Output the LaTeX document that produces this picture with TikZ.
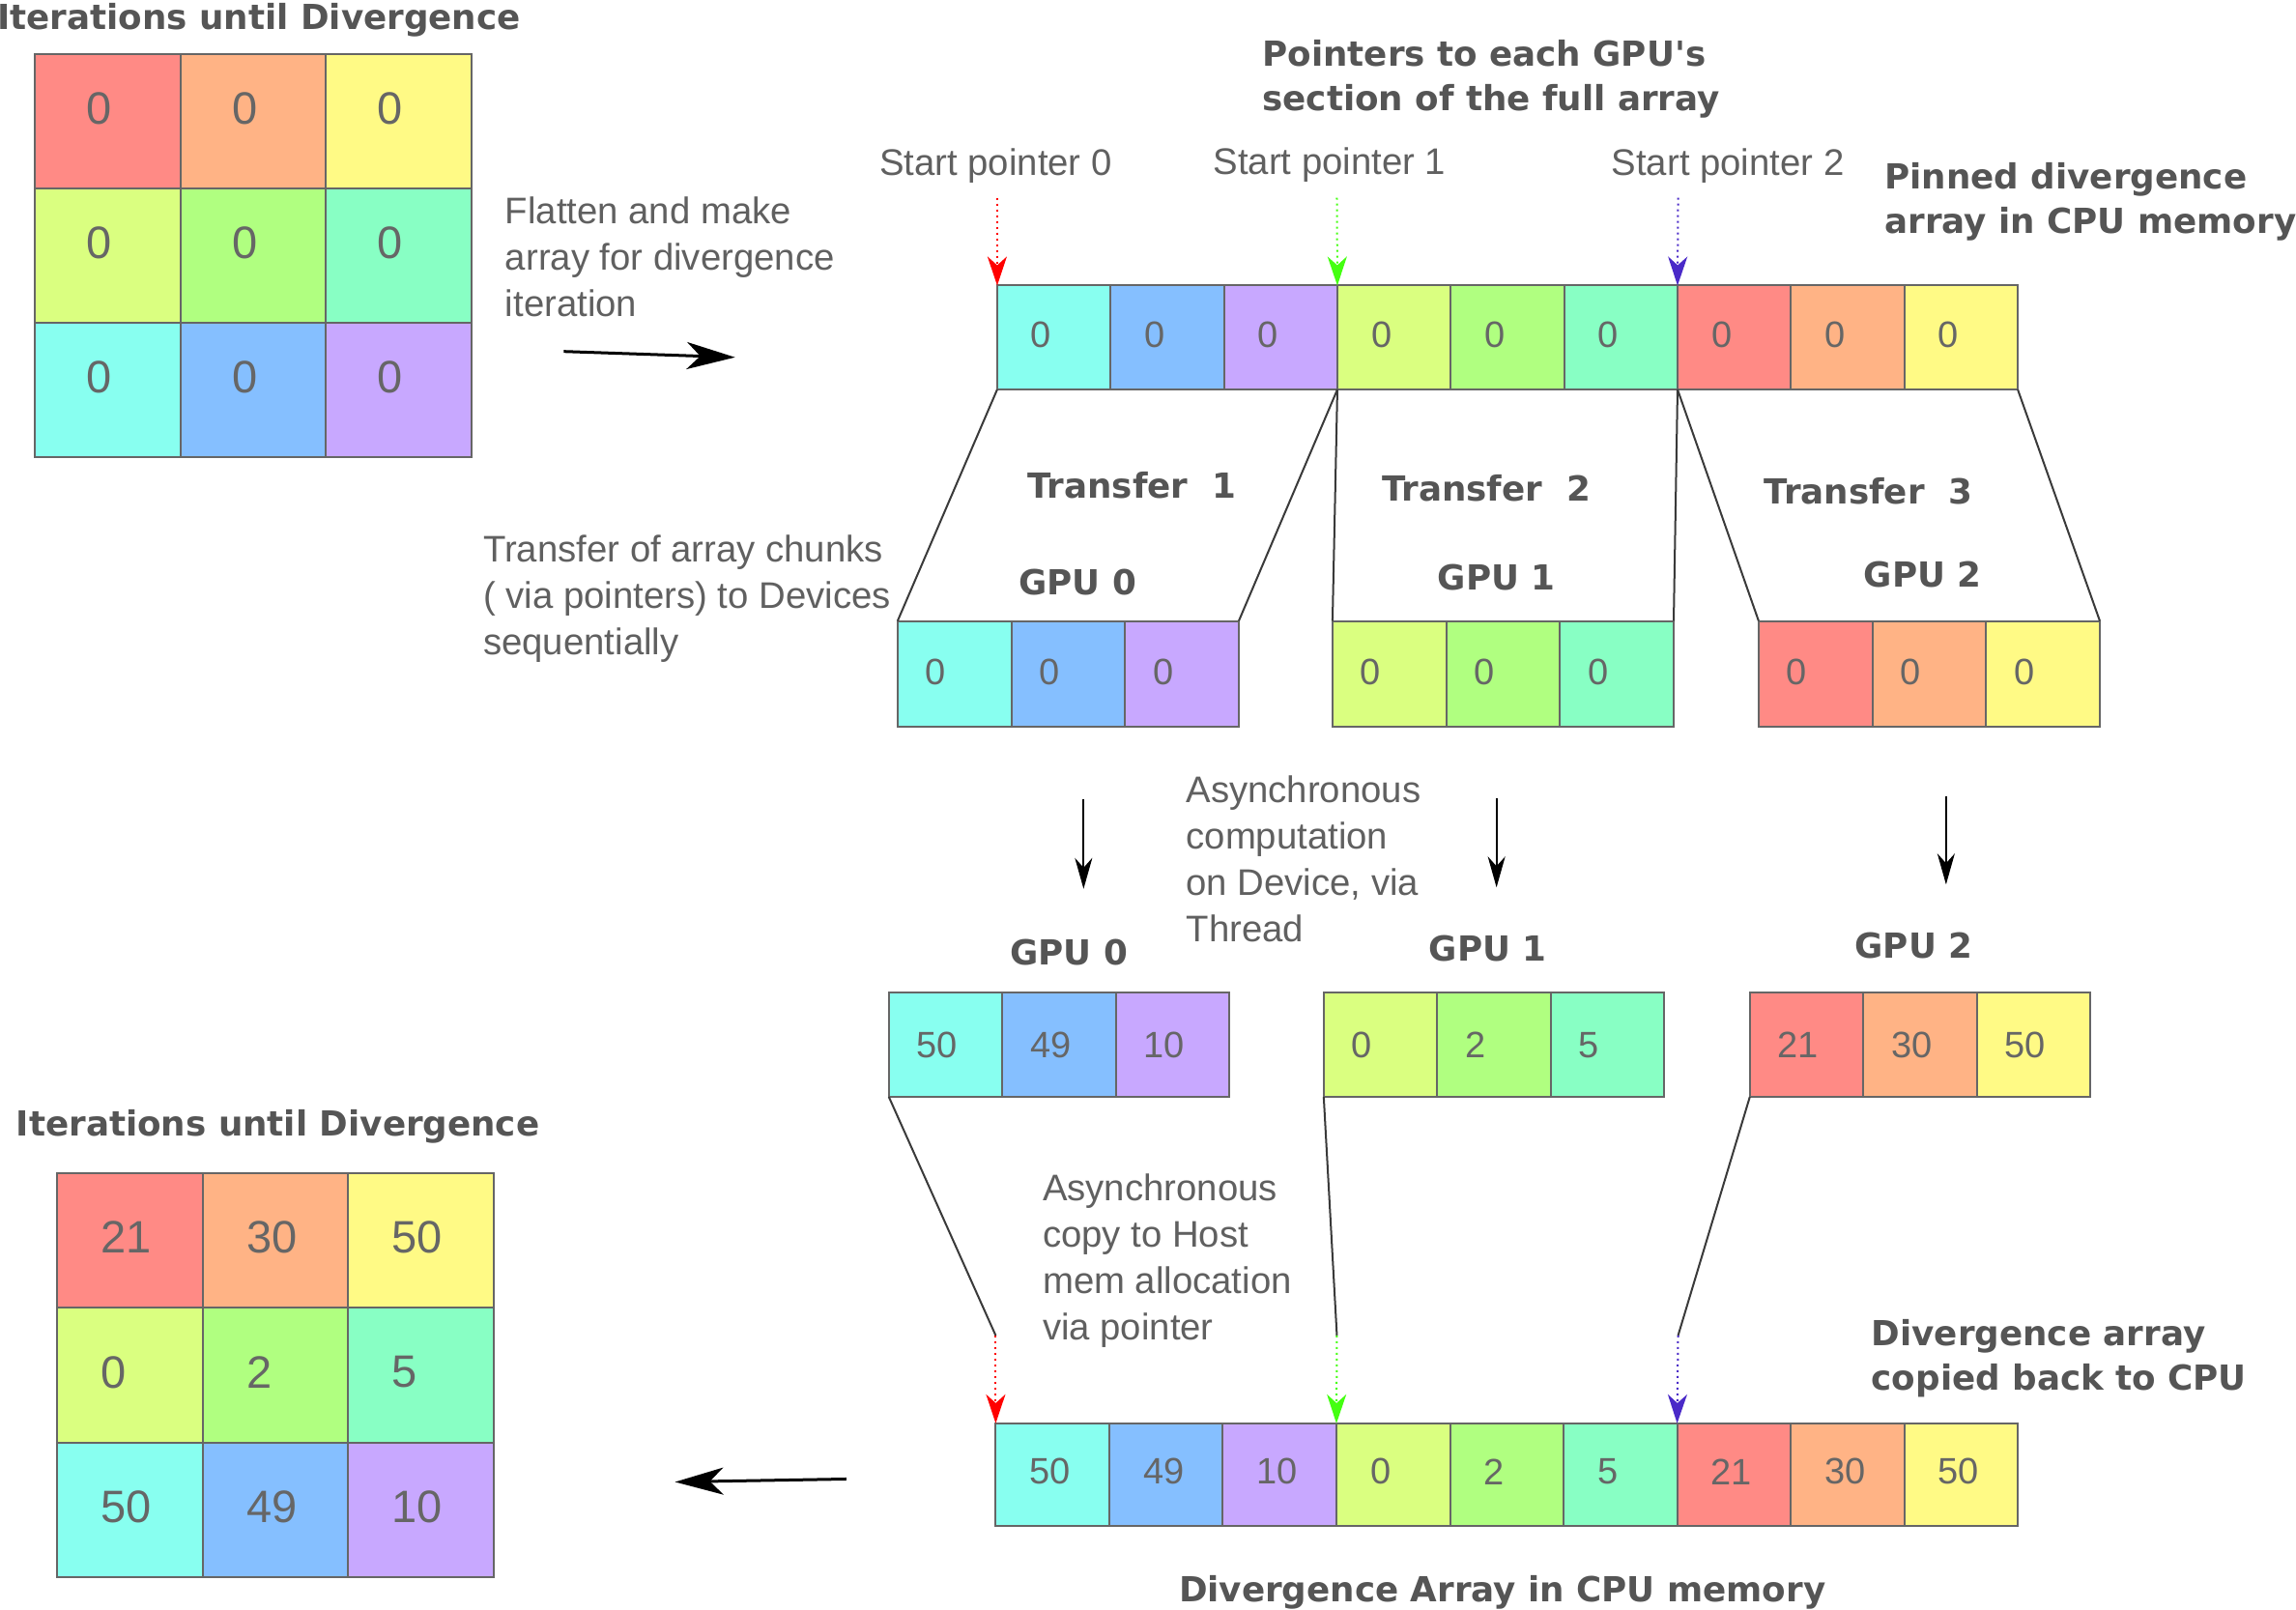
\documentclass[tikz,border=0pt]{standalone}
\usepackage{fontspec}
\setmainfont{Liberation Sans}
\newfontfamily\dvs{DejaVu Sans}
\usetikzlibrary{arrows.meta,calc}
\definecolor{cR}{HTML}{FF8A85}
\definecolor{cO}{HTML}{FFB385}
\definecolor{cY}{HTML}{FFFA85}
\definecolor{cYG}{HTML}{DAFF80}
\definecolor{cG}{HTML}{B0FF80}
\definecolor{cM}{HTML}{88FFC4}
\definecolor{cC}{HTML}{88FFF0}
\definecolor{cB}{HTML}{85BFFF}
\definecolor{cP}{HTML}{C8A8FF}
\definecolor{cellgray}{HTML}{666666}
\definecolor{numgray}{HTML}{666666}
\definecolor{txtgray}{HTML}{606060}
\definecolor{boldgray}{HTML}{555555}
\definecolor{trapgray}{HTML}{3A3A3A}
\definecolor{pRed}{HTML}{FF0000}
\definecolor{pGreen}{HTML}{44FF11}
\definecolor{pBlue}{HTML}{4A2AC8}
\begin{document}
\begin{tikzpicture}[x=1.5153pt,y=-1.5153pt,
  cell/.style={draw=cellgray, line width=2pt, outer sep=0pt, inner sep=0pt, anchor=north west},
  num/.style={text=numgray, inner sep=0pt, anchor=west},
  gridnum/.style={num, font=\fontsize{47}{56}\selectfont},
  arrnum/.style={num, font=\fontsize{38}{46}\selectfont},
  lbl/.style={text=txtgray, inner sep=0pt, font=\fontsize{38.3}{48}\selectfont},
  blbl/.style={text=boldgray, inner sep=0pt, font=\dvs\bfseries\fontsize{35.7}{46}\selectfont},
  trap/.style={draw=trapgray, line width=2pt},
  ptr/.style={line width=2pt, dash pattern=on 2pt off 4pt, -{Stealth[length=30pt,width=20pt,inset=9pt]}},
  bigarrow/.style={line width=3pt, -{Stealth[length=50pt,width=28pt,inset=14pt]}},
  downarrow/.style={line width=2pt, -{Stealth[length=32pt,width=18pt,inset=10pt]}}
]
\fill[white] (0,0) rectangle (1568,1099);
\useasboundingbox (0,0) rectangle (1568,1099);

% top grid
\foreach \c [count=\i from 0] in {cR,cO,cY,cYG,cG,cM,cC,cB,cP} {
  \pgfmathtruncatemacro\col{mod(\i,3)}
  \pgfmathtruncatemacro\row{div(\i,3)}
  \node[cell, fill=\c, minimum width=99.33*1.5153pt, minimum height=91.67*1.5153pt] (A\i) at ({24+\col*99.33},{37+\row*91.67}) {};
  \node[gridnum] at ($(A\i.west)+(35,-8.5)$) {0};
}

% bottom grid
\foreach \c/\v [count=\i from 0] in {cR/21,cO/30,cY/50,cYG/0,cG/2,cM/5,cC/50,cB/49,cP/10} {
  \pgfmathtruncatemacro\col{mod(\i,3)}
  \pgfmathtruncatemacro\row{div(\i,3)}
  \node[cell, fill=\c, minimum width=99.33*1.5153pt, minimum height=92*1.5153pt] (C\i) at ({39+\col*99.33},{801+\row*92}) {};
  \node[gridnum] at ($(C\i.west)+(30,-2)$) {\v};
}

% top flat array
\foreach \c [count=\i from 0] in {cC,cB,cP,cYG,cG,cM,cR,cO,cY} {
  \node[cell, fill=\c, minimum width=77.44*1.5153pt, minimum height=71*1.5153pt] (T\i) at ({681+\i*77.44},195) {};
  \node[arrnum] at ($(T\i.west)+(23,-2)$) {0};
}

% GPU arrays after transfer
\foreach \c/\xx [count=\i from 0] in {cC/613,cB/690.67,cP/768.33,cYG/910,cG/987.67,cM/1065.33,cR/1201,cO/1278.67,cY/1356.33} {
  \node[cell, fill=\c, minimum width=77.67*1.5153pt, minimum height=72*1.5153pt] (P\i) at (\xx,424) {};
  \node[arrnum] at ($(P\i.west)+(19,-1)$) {0};
}

% GPU arrays after computation
\foreach \c/\xx/\v [count=\i from 0] in {cC/607/50,cB/684.5/49,cP/762/10,cYG/904/0,cG/981.5/2,cM/1059/5,cR/1195/21,cO/1272.5/30,cY/1350/50} {
  \node[cell, fill=\c, minimum width=77.5*1.5153pt, minimum height=71*1.5153pt] (Q\i) at (\xx,678) {};
  \node[arrnum] at ($(Q\i.west)+(19,0)$) {\v};
}

% bottom flat array
\foreach \c/\v [count=\i from 0] in {cC/50,cB/49,cP/10,cYG/0,cG/2,cM/5,cR/21,cO/30,cY/50} {
  \node[cell, fill=\c, minimum width=77.56*1.5153pt, minimum height=70*1.5153pt] (B\i) at ({680+\i*77.56},972) {};
  \node[arrnum] at ($(B\i.west)+(23,-2)$) {\v};
}

% transfer trapezoids
\draw[trap] (T0.south west) -- (P0.north west);
\draw[trap] (T2.south east) -- (P2.north east);
\draw[trap] (T3.south west) -- (P3.north west);
\draw[trap] (T5.south east) -- (P5.north east);
\draw[trap] (T6.south west) -- (P6.north west);
\draw[trap] (T8.south east) -- (P8.north east);

% start pointers (top)
\coordinate (s0) at (681,135);
\coordinate (s1) at (913,135);
\coordinate (s2) at (1146,135);
\draw[ptr, pRed] (s0) -- (T0.north west);
\draw[ptr, pGreen] (s1) -- (T3.north west);
\draw[ptr, pBlue] (s2) -- (T6.north west);

% copy back lines and pointers
\coordinate (k0) at (680,912);
\coordinate (k1) at (913,912);
\coordinate (k2) at (1146,912);
\draw[trap] (Q0.south west) -- (k0);
\draw[trap] (Q3.south west) -- (k1);
\draw[trap] (Q6.south west) -- (k2);
\draw[ptr, pRed] (k0) -- (B0.north west);
\draw[ptr, pGreen] (k1) -- (B3.north west);
\draw[ptr, pBlue] (k2) -- (B6.north west);

% big arrows
\coordinate (f1) at (385,240);
\coordinate (f2) at (502,244);
\draw[bigarrow] (f1) -- (f2);
\coordinate (r1) at (578,1010);
\coordinate (r2) at (461,1012);
\draw[bigarrow] (r1) -- (r2);

% computation arrows
\coordinate (d0a) at (740,546); \coordinate (d0b) at (740,607);
\coordinate (d1a) at (1022,545); \coordinate (d1b) at (1022,606);
\coordinate (d2a) at (1329,544); \coordinate (d2b) at (1329,604);
\draw[downarrow] (d0a) -- (d0b);
\draw[downarrow] (d1a) -- (d1b);
\draw[downarrow] (d2a) -- (d2b);

% bold labels
\node[blbl, anchor=base west] (title1) at (-2,20) {Iterations until Divergence};
\node[blbl, anchor=base west] (title2) at (11,776) {Iterations until Divergence};
\node[blbl, anchor=base west] (ptrs) at (862,45) {\vtop{\hbox{Pointers to each GPU\textquotesingle s}\hbox{section of the full array}}};
\node[blbl, anchor=base west] (pinned) at (1287,129) {\vtop{\hbox{Pinned divergence}\hbox{array in CPU memory}}};
\node[blbl, anchor=base west] (copied) at (1278,919) {\vtop{\hbox{Divergence array}\hbox{copied back to CPU}}};
\node[blbl, anchor=base] (divcpu) at (1026,1094) {Divergence Array in CPU memory};
\node[blbl, anchor=base] (tr1) at (773,340) {Transfer\ \ 1};
\node[blbl, anchor=base] (tr2) at (1015,342) {Transfer\ \ 2};
\node[blbl, anchor=base] (tr3) at (1276,344) {Transfer\ \ 3};
\node[blbl, anchor=base] (gA0) at (736,406) {GPU 0};
\node[blbl, anchor=base] (gA1) at (1022,403) {GPU 1};
\node[blbl, anchor=base] (gA2) at (1313,401) {GPU 2};
\node[blbl, anchor=base] (gB0) at (730,659) {GPU 0};
\node[blbl, anchor=base] (gB1) at (1016,656) {GPU 1};
\node[blbl, anchor=base] (gB2) at (1307,654) {GPU 2};

% regular labels
\node[lbl, anchor=base west] (flat) at (345,153) {\vtop{\hbox{Flatten and make}\hbox{array for divergence}\hbox{iteration}}};
\node[lbl, anchor=base] (sp0) at (680,120) {Start pointer 0};
\node[lbl, anchor=base] (sp1) at (908,119) {Start pointer 1};
\node[lbl, anchor=base] (sp2) at (1180,120) {Start pointer 2};
\node[lbl, anchor=base west] (chunks) at (330,384) {\vtop{\hbox{Transfer of array chunks}\hbox{( via pointers) to Devices}\hbox{sequentially}}};
\node[lbl, anchor=base west] (async) at (810,548) {\vtop{\hbox{Asynchronous}\hbox{computation}\hbox{on Device, via}\hbox{Thread}}};
\node[lbl, anchor=base west] (copy) at (712,820) {\vtop{\hbox{Asynchronous}\hbox{copy to Host}\hbox{mem allocation}\hbox{via pointer}}};
\end{tikzpicture}
\end{document}
